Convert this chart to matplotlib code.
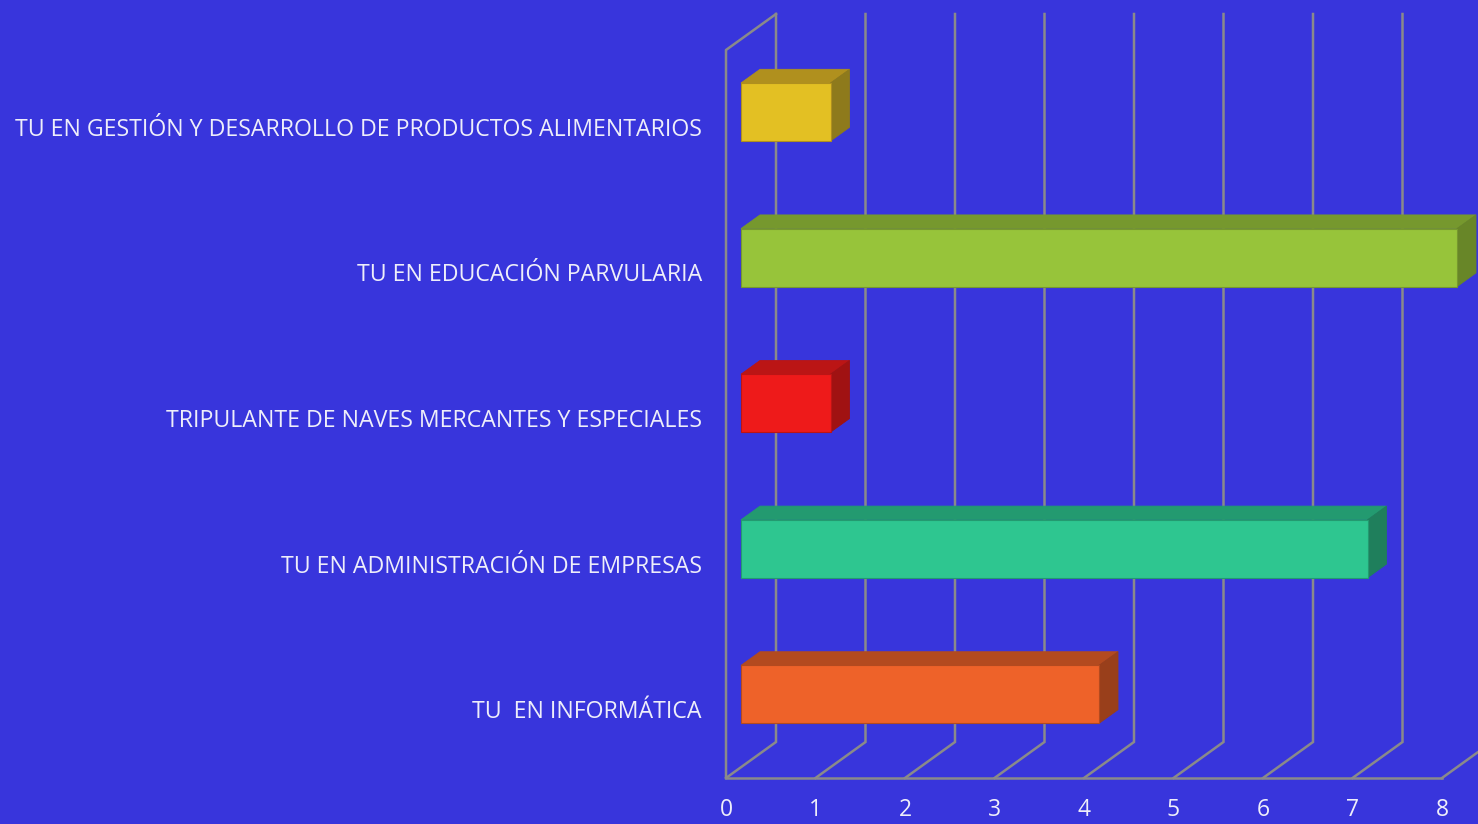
import numpy as np
import matplotlib
matplotlib.use("Agg")
import matplotlib.pyplot as plt
from matplotlib.patches import Polygon

# datos (de arriba hacia abajo)
categorias = [
    "TU EN GESTIÓN Y DESARROLLO DE PRODUCTOS ALIMENTARIOS",
    "TU EN EDUCACIÓN PARVULARIA",
    "TRIPULANTE DE NAVES MERCANTES Y ESPECIALES",
    "TU EN ADMINISTRACIÓN DE EMPRESAS",
    "TU  EN INFORMÁTICA",
]
valores = [1, 8, 1, 7, 4]
ticks_x = [0, 1, 2, 3, 4, 5, 6, 7, 8]

colores_frente = ["#E3C023", "#97C43A", "#EE1A1A", "#2EC690", "#EE6229"]
colores_arriba = ["#B0901E", "#76982E", "#BB1515", "#239A70", "#B34A1F"]
colores_lado = ["#8E7A1C", "#688628", "#A01212", "#1F7F5C", "#993F1B"]

FONDO = "#3835DC"
GRILLA = "#8A8A8A"
TEXTO = "#EEEEFA"

W, H = 1478, 824
fig = plt.figure(figsize=(W / 100, H / 100), dpi=100, facecolor=FONDO)
ax = fig.add_axes([0, 0, 1, 1])
ax.set_facecolor(FONDO)
ax.axis("off")

# escala: 1 unidad x = 89.5 px, 1 categoria = 145.6 px
px_x, px_y = 89.5, 145.6
x0_px, y0_px = 726, 778
ax.set_xlim(-x0_px / px_x, (W - x0_px) / px_x)
ax.set_ylim(-0.5 - (H - y0_px) / px_y, -0.5 + y0_px / px_y)

# vector de profundidad
dx, dy = 50 / px_x, 36 / px_y
n = len(categorias)
y_min, y_max = -0.5, n - 0.5

# paredes y grilla
lw = 1.8
ax.plot([0, 0, dx], [y_min, y_max, y_max + dy], color=GRILLA, lw=lw, zorder=1)
ax.plot([0, max(ticks_x)], [y_min, y_min], color=GRILLA, lw=lw, zorder=1)
for t in ticks_x:
    ax.plot([t, t + dx, t + dx], [y_min, y_min + dy, y_max + dy],
            color=GRILLA, lw=lw, zorder=1, solid_joinstyle="miter")
    ax.text(t, y_min - 32 / px_y, str(t), color=TEXTO, fontsize=16.5,
            family="Open Sans", ha="center", va="center")

# barras 3D
d0, d1 = 0.3, 0.38
alto = 58 / px_y
for i, (cat, v) in enumerate(zip(categorias, valores)):
    yc = n - 1 - i
    fx, fy = d0 * dx, d0 * dy
    bx, by = d1 * dx, d1 * dy
    y_bot = yc + fy - alto / 2
    y_top = yc + fy + alto / 2
    x_l, x_r = fx, v + fx
    frente = [(x_l, y_bot), (x_r, y_bot), (x_r, y_top), (x_l, y_top)]
    arriba = [(x_l, y_top), (x_r, y_top), (x_r + bx, y_top + by), (x_l + bx, y_top + by)]
    lado = [(x_r, y_bot), (x_r + bx, y_bot + by), (x_r + bx, y_top + by), (x_r, y_top)]
    ax.add_patch(Polygon(arriba, closed=True, facecolor=colores_arriba[i],
                         edgecolor=colores_arriba[i], lw=0.6, zorder=3))
    ax.add_patch(Polygon(lado, closed=True, facecolor=colores_lado[i],
                         edgecolor=colores_lado[i], lw=0.6, zorder=3))
    ax.add_patch(Polygon(frente, closed=True, facecolor=colores_frente[i],
                         edgecolor=colores_arriba[i], lw=0.8, zorder=4))
    ax.text(-24 / px_x, yc - 7 / px_y, cat, color=TEXTO, fontsize=16.7,
            family="Open Sans", ha="right", va="center")

fig.savefig("out.png", dpi=100, facecolor=FONDO)
